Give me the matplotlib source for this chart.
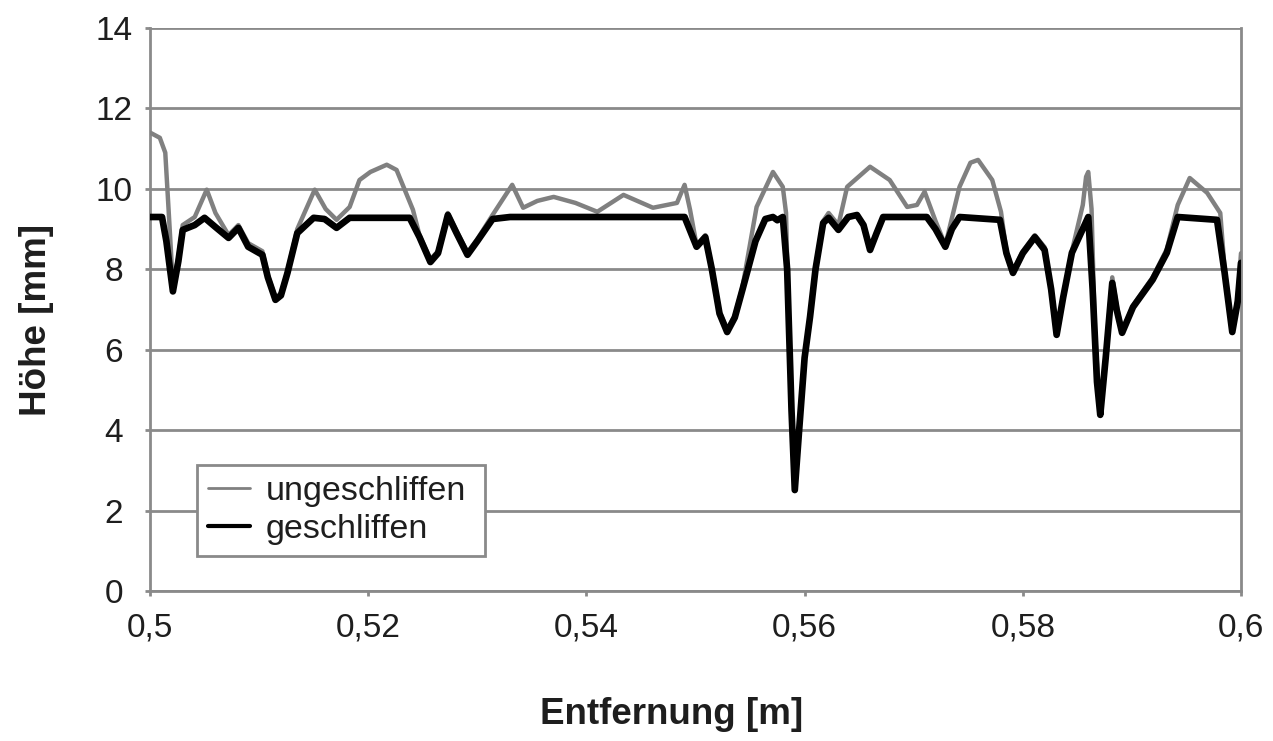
import matplotlib
matplotlib.use("Agg")
import matplotlib.pyplot as plt

# geschliffen (black)
x_geschliffen = [0.5000, 0.5011, 0.5015, 0.5021, 0.5026, 0.5030, 0.5041, 0.5050, 0.5060, 0.5072,
                 0.5081, 0.5090, 0.5103, 0.5108, 0.5115, 0.5120, 0.5126, 0.5135, 0.5150, 0.5160,
                 0.5171, 0.5183, 0.5238, 0.5247, 0.5257, 0.5264, 0.5273, 0.5281, 0.5291, 0.5300,
                 0.5314, 0.5330, 0.5490, 0.5501, 0.5509, 0.5515, 0.5522, 0.5529, 0.5536, 0.5543,
                 0.5555, 0.5564, 0.5571, 0.5575, 0.5580, 0.5584, 0.5588, 0.5591, 0.5595, 0.5600,
                 0.5605, 0.5610, 0.5617, 0.5622, 0.5631, 0.5640, 0.5648, 0.5654, 0.5660, 0.5666,
                 0.5672, 0.5712, 0.5720, 0.5729, 0.5735, 0.5742, 0.5779, 0.5785, 0.5791, 0.5800,
                 0.5811, 0.5820, 0.5826, 0.5831, 0.5837, 0.5845, 0.5860, 0.5864, 0.5868, 0.5871,
                 0.5876, 0.5882, 0.5886, 0.5891, 0.5901, 0.5919, 0.5932, 0.5942, 0.5978, 0.5985,
                 0.5992, 0.5997, 0.6000]
y_geschliffen = [9.30, 9.30, 8.70, 7.45, 8.20, 8.98, 9.10, 9.28, 9.05, 8.78,
                 9.03, 8.56, 8.36, 7.80, 7.24, 7.35, 7.91, 8.90, 9.28, 9.25,
                 9.03, 9.28, 9.28, 8.80, 8.18, 8.40, 9.35, 8.90, 8.36, 8.70,
                 9.25, 9.30, 9.30, 8.56, 8.80, 8.00, 6.90, 6.44, 6.80, 7.49,
                 8.70, 9.25, 9.30, 9.22, 9.30, 8.00, 4.50, 2.51, 4.00, 5.80,
                 6.82, 8.00, 9.15, 9.28, 8.98, 9.30, 9.35, 9.10, 8.48, 8.90,
                 9.30, 9.30, 9.00, 8.56, 9.00, 9.30, 9.23, 8.40, 7.91, 8.40,
                 8.80, 8.48, 7.50, 6.37, 7.30, 8.41, 9.30, 7.50, 5.20, 4.38,
                 5.80, 7.66, 7.00, 6.42, 7.06, 7.74, 8.41, 9.30, 9.23, 7.91,
                 6.44, 7.20, 8.16]

# ungeschliffen (grey)
x_ungeschliffen = [0.5000, 0.5009, 0.5014, 0.5017, 0.5021, 0.5026, 0.5030, 0.5041, 0.5052, 0.5060,
                   0.5072, 0.5081, 0.5090, 0.5103, 0.5108, 0.5115, 0.5120, 0.5126, 0.5135, 0.5151,
                   0.5161, 0.5171, 0.5183, 0.5192, 0.5202, 0.5217, 0.5226, 0.5241, 0.5247, 0.5257,
                   0.5264, 0.5273, 0.5281, 0.5291, 0.5300, 0.5314, 0.5332, 0.5342, 0.5355, 0.5370,
                   0.5390, 0.5410, 0.5434, 0.5461, 0.5483, 0.5490, 0.5495, 0.5501, 0.5509, 0.5515,
                   0.5522, 0.5529, 0.5536, 0.5543, 0.5556, 0.5571, 0.5580, 0.5583, 0.5585, 0.5588,
                   0.5591, 0.5595, 0.5600, 0.5605, 0.5610, 0.5617, 0.5622, 0.5631, 0.5639, 0.5660,
                   0.5678, 0.5694, 0.5703, 0.5710, 0.5720, 0.5729, 0.5742, 0.5752, 0.5759, 0.5772,
                   0.5780, 0.5785, 0.5791, 0.5800, 0.5811, 0.5820, 0.5826, 0.5831, 0.5837, 0.5845,
                   0.5855, 0.5858, 0.5860, 0.5863, 0.5866, 0.5871, 0.5876, 0.5882, 0.5886, 0.5891,
                   0.5901, 0.5919, 0.5932, 0.5942, 0.5953, 0.5969, 0.5981, 0.5985, 0.5992, 0.5997,
                   0.6000]
y_ungeschliffen = [11.40, 11.27, 10.90, 9.50, 7.60, 8.30, 9.10, 9.30, 9.98, 9.40,
                   8.85, 9.10, 8.65, 8.45, 7.85, 7.30, 7.40, 7.95, 9.00, 9.98,
                   9.50, 9.23, 9.55, 10.22, 10.42, 10.60, 10.47, 9.48, 8.85, 8.25,
                   8.45, 9.40, 8.95, 8.42, 8.75, 9.35, 10.10, 9.53, 9.70, 9.80,
                   9.65, 9.43, 9.85, 9.53, 9.65, 10.10, 9.48, 8.60, 8.85, 8.05,
                   6.95, 6.50, 6.85, 7.55, 9.55, 10.42, 10.05, 9.40, 7.00, 4.50,
                   2.55, 4.00, 5.80, 6.85, 8.05, 9.20, 9.40, 9.10, 10.05, 10.55,
                   10.22, 9.55, 9.60, 9.93, 9.20, 8.60, 10.05, 10.65, 10.72, 10.22,
                   9.43, 8.45, 7.95, 8.45, 8.85, 8.55, 7.55, 6.40, 7.35, 8.45,
                   9.60, 10.30, 10.42, 9.50, 6.50, 4.40, 5.90, 7.80, 7.10, 6.45,
                   7.10, 7.80, 8.50, 9.60, 10.27, 9.90, 9.40, 8.00, 6.50, 7.30,
                   8.40]

x_ticks = [0.50, 0.52, 0.54, 0.56, 0.58, 0.60]
x_tick_labels = ["0,5", "0,52", "0,54", "0,56", "0,58", "0,6"]
y_ticks = [0, 2, 4, 6, 8, 10, 12, 14]

plt.rcParams['font.family'] = ['Liberation Sans', 'DejaVu Sans']

W, H = 1273, 741
fig = plt.figure(figsize=(W / 100, H / 100), dpi=100)
L, R, T, B = 150, 1241, 28, 591
ax = fig.add_axes([L / W, (H - B) / H, (R - L) / W, (B - T) / H])

grid_c = '#8a8a8a'
text_c = '#1e1e1e'
for yv in y_ticks:
    ax.axhline(yv, color=grid_c, lw=2.0, zorder=1)

ax.plot(x_ungeschliffen, y_ungeschliffen, color='#808080', lw=3.2,
        solid_joinstyle='round', solid_capstyle='round', label='ungeschliffen', zorder=3)
ax.plot(x_geschliffen, y_geschliffen, color='#000000', lw=4.8,
        solid_joinstyle='round', solid_capstyle='round', label='geschliffen', zorder=4)

ax.set_xlim(0.5, 0.6)
ax.set_ylim(0, 14)
ax.set_xticks(x_ticks)
ax.set_xticklabels(x_tick_labels)
ax.set_yticks(y_ticks)

for s in ax.spines.values():
    s.set_color(grid_c)
    s.set_linewidth(2.0)
ax.spines['top'].set_visible(False)

ax.tick_params(axis='both', colors=grid_c, length=3.5, width=2, labelsize=24,
               labelcolor=text_c, direction='out')
ax.tick_params(axis='x', pad=12)
ax.tick_params(axis='y', pad=22.5)
for lab in ax.get_yticklabels():
    lab.set_horizontalalignment('center')

ax.set_xlabel('Entfernung [m]', fontsize=26.5, fontweight='bold', color=text_c)
ax.set_ylabel('Höhe [mm]', fontsize=26.5, fontweight='bold', color=text_c)
ax.xaxis.label.set_va('center')
ax.xaxis.set_label_coords((672 - L) / (R - L), (B - 715) / (B - T))
ax.yaxis.label.set_va('center')
ax.yaxis.set_label_coords((37 - L) / (R - L), (B - 320) / (B - T))

leg = ax.legend(loc='upper left',
                bbox_to_anchor=((197 - L) / (R - L), (B - 465) / (B - T),
                                (485 - 197) / (R - L), 0.0),
                mode='expand', fontsize=24.5, frameon=True, fancybox=False,
                handlelength=1.25, handletextpad=0.45, borderpad=0.32, labelspacing=0.22,
                borderaxespad=0)
leg.get_frame().set_edgecolor(grid_c)
leg.get_frame().set_linewidth(2.0)
leg.get_frame().set_facecolor('white')
leg.get_frame().set_alpha(1)
for t in leg.get_texts():
    t.set_color(text_c)
legend_lines = leg.get_lines()
legend_lines[0].set_linewidth(2.0)
legend_lines[1].set_linewidth(3.0)
leg.set_zorder(10)

fig.savefig('out.png', dpi=100, facecolor='white')
